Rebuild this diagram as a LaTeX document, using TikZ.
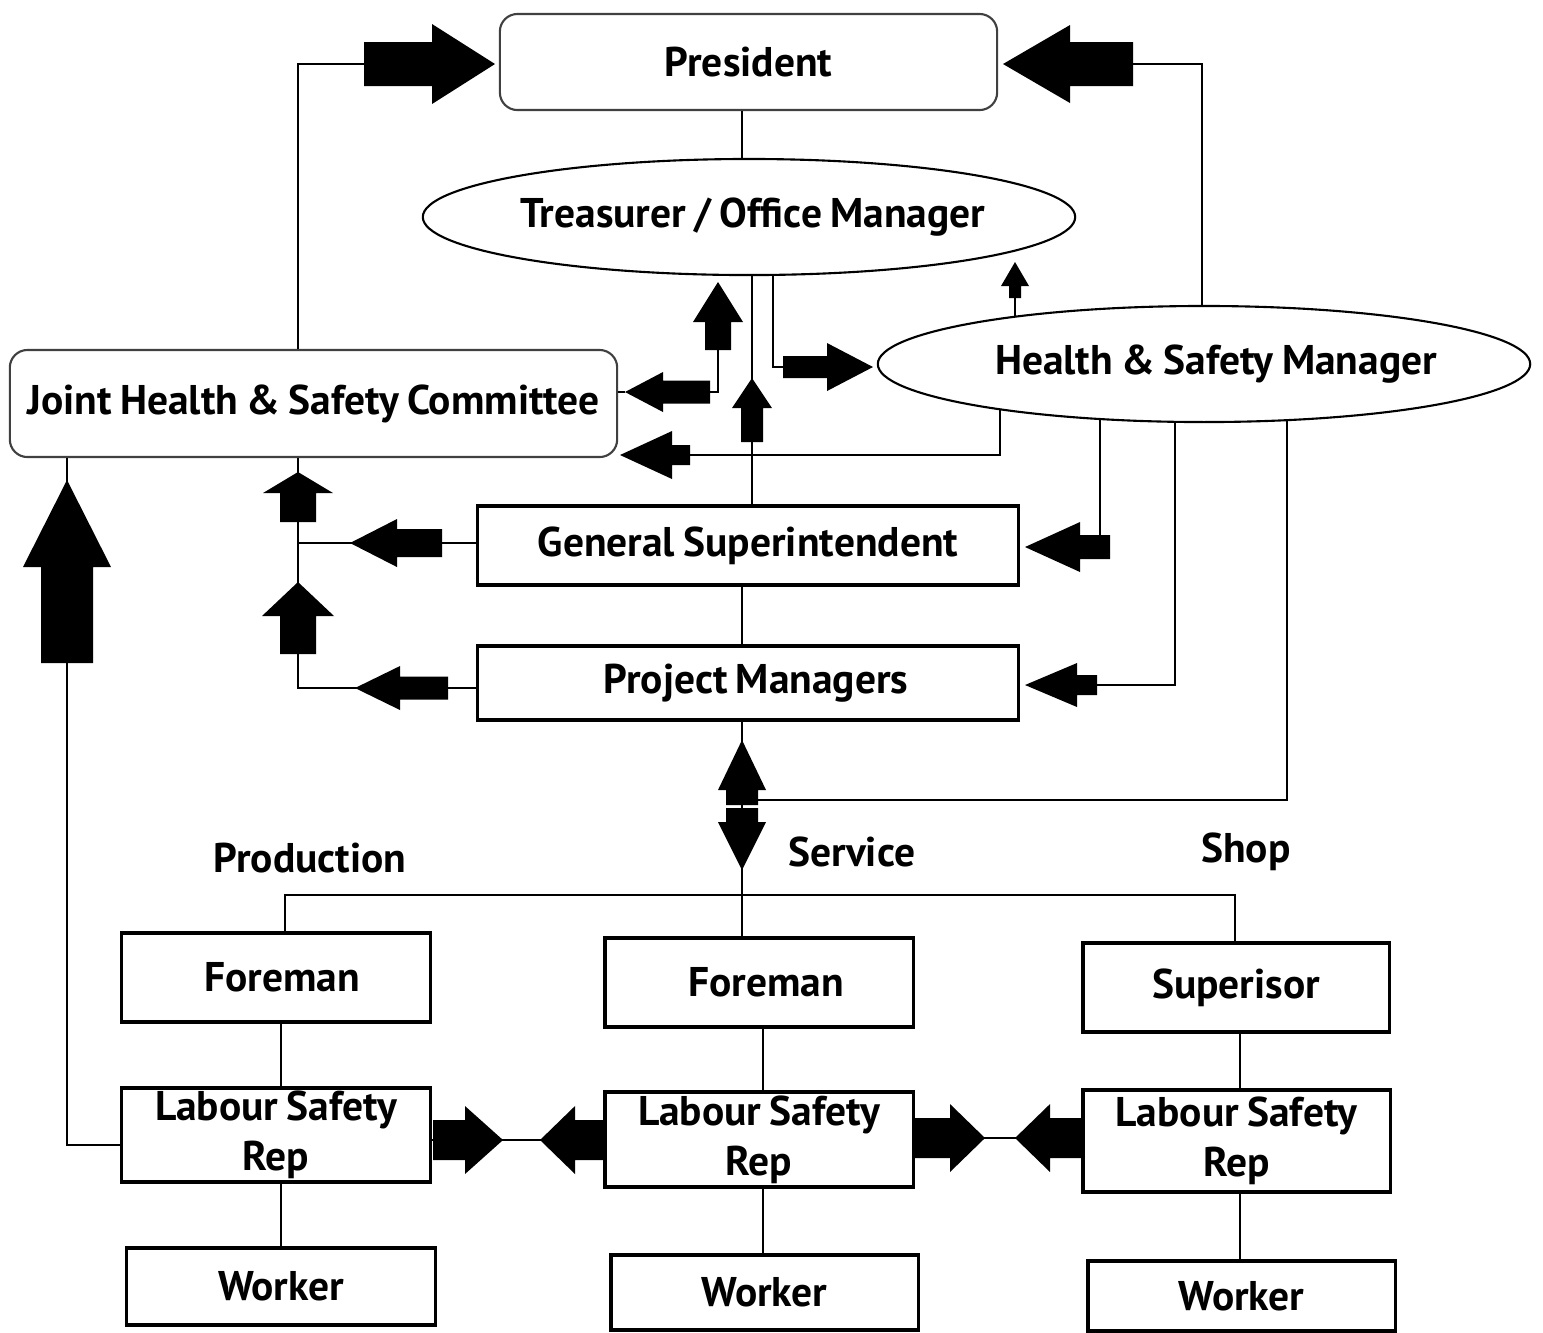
\documentclass[tikz,border=0pt]{standalone}
\usepackage{fontspec}
\setmainfont{PT Sans}[WordSpace=0.8]
\usetikzlibrary{shapes.geometric,calc}
\newcommand\lbl{\bfseries\fontsize{11.8}{14.2}\selectfont}
% block arrow: tip x, tip y, angle, total length, head length, shaft half width, head half width
\newcommand\barr[7]{\fill[shift={(#1,#2)},rotate=#3] (0,0) -- (-#5,#7) -- (-#5,#6) -- (-#4,#6) -- (-#4,-#6) -- (-#5,-#6) -- (-#5,-#7) -- cycle;}
\begin{document}
\begin{tikzpicture}[x=0.01cm,y=-0.01cm,
  box/.style={draw, line width=0.9pt, inner sep=0pt, font=\lbl, align=center},
  rbox/.style={draw=black!75, line width=0.6pt, rounded corners=5pt, inner sep=0pt, font=\lbl, align=center},
  ell/.style={ellipse, draw, line width=0.6pt, inner ysep=0pt, inner xsep=-1.5cm, font=\lbl},
  conn/.style={line width=0.7pt},
  lbl/.style={font=\lbl}]
\useasboundingbox[fill=white] (0,0) rectangle (1543,1332);

% nodes
\node[rbox, minimum width=4.97cm, minimum height=0.96cm] (pres) at (748.5,62) {President};
\node[ell, minimum width=6.52cm, minimum height=1.16cm] (treas) at (749,217) {\hspace*{0.08cm}Treasurer / Office Manager};
\node[ell, minimum width=6.52cm, minimum height=1.16cm] (hsm) at (1204,364) {\hspace*{0.24cm}Health \& Safety Manager};
\node[rbox, minimum width=6.07cm, minimum height=1.07cm] (jhsc) at (313.5,403.5) {Joint Health \& Safety Committee};
\node[box, minimum width=5.40cm, minimum height=0.79cm] (gs) at (748,545.5) {General Superintendent};
\node[box, minimum width=5.40cm, minimum height=0.74cm] (pm) at (748,683) {\hspace*{0.16cm}Project Managers};

\node[box, minimum width=3.08cm, minimum height=0.89cm] (f1) at (276,977.5) {\hspace*{0.12cm}Foreman};
\node[box, minimum width=3.08cm, minimum height=0.89cm] (f2) at (759,982.5) {\hspace*{0.14cm}Foreman};
\node[box, minimum width=3.06cm, minimum height=0.89cm] (sup) at (1236,987.5) {Superisor};

\node[box, minimum width=3.08cm, minimum height=0.94cm] (l1) at (276,1135) {Labour Safety\\Rep};
\node[box, minimum width=3.08cm, minimum height=0.95cm] (l2) at (759,1139.5) {Labour Safety\\Rep};
\node[box, minimum width=3.07cm, minimum height=1.02cm] (l3) at (1236.5,1141) {Labour Safety\\Rep};

\node[box, minimum width=3.08cm, minimum height=0.77cm] (w1) at (281,1286.5) {Worker};
\node[box, minimum width=3.07cm, minimum height=0.75cm] (w2) at (764.5,1292.5) {Worker};
\node[box, minimum width=3.07cm, minimum height=0.70cm] (w3) at (1241.5,1296) {Worker};

\node[lbl] (prod) at (310,858) {Production};
\node[lbl] (serv) at (852,852) {Service};
\node[lbl] (shop) at (1246,852) {Shop};

% coordinates
\coordinate (cA) at (298,64);
\coordinate (tl1) at (364,64);
\coordinate (cB) at (1202,64);
\coordinate (tr1) at (1133,64);
\coordinate (v742) at (742,0);
\coordinate (v752) at (752,0);
\coordinate (sa) at (1015,298);
\coordinate (c773) at (773,367);
\coordinate (t783) at (783,367);
\coordinate (ju) at (718,350);
\coordinate (j) at (718,392);
\coordinate (jl) at (710,392);
\coordinate (jt) at (625,392);
\coordinate (c1000) at (1000,455);
\coordinate (t690) at (690,455);
\coordinate (c1100) at (1100,535);
\coordinate (c1175) at (1175,685);
\coordinate (t1097) at (1097,685);
\coordinate (c1287) at (1287,800);
\coordinate (c758) at (758,800);
\coordinate (c298a) at (298,543);
\coordinate (c298b) at (298,688);
\coordinate (b1) at (285,895);
\coordinate (b3) at (1235,895);
\coordinate (x281) at (281,0);
\coordinate (x763) at (763,0);
\coordinate (x1240) at (1240,0);
\coordinate (y1140) at (0,1140);
\coordinate (y1138) at (0,1138);
\coordinate (c67) at (67,1145);

% connectors
\draw[conn] (jhsc.north -| cA) -- (cA) -- (tl1);
\draw[conn] (hsm.north -| cB) -- (cB) -- (tr1);
\draw[conn] (pres.south -| v742) -- (treas.north -| v742);
\draw[conn] (sa |- hsm.166) -- (sa);
\draw[conn] (gs.north -| v752) -- (treas.south -| v752);
\draw[conn] (treas.south -| c773) -- (c773) -- (t783);
\draw[conn] (ju) -- (j) -- (jl);
\draw[conn] (jt) -- (jt -| jhsc.east);
\draw[conn] (c1000 |- hsm.192) -- (c1000) -- (t690);
\draw[conn] (c1100 |- hsm.208) -- (c1100);
\draw[conn] (c1175 |- hsm.243) -- (c1175) -- (t1097);
\draw[conn] (c1287 |- hsm.326) -- (c1287) -- (c758);
\draw[conn] (jhsc.south -| c298a) -- (c298b) -- (pm.west |- c298b);
\draw[conn] (c298a) -- (gs.west |- c298a);
\draw[conn] (gs.south -| v742) -- (pm.north -| v742);
\draw[conn] (pm.south -| v742) -- (f2.north -| v742);
\draw[conn] (f1.north -| b1) -- (b1) -- (b3) -- (sup.north -| b3);
\draw[conn] (f1.south -| x281) -- (l1.north -| x281);
\draw[conn] (l1.south -| x281) -- (w1.north -| x281);
\draw[conn] (f2.south -| x763) -- (l2.north -| x763);
\draw[conn] (l2.south -| x763) -- (w2.north -| x763);
\draw[conn] (sup.south -| x1240) -- (l3.north -| x1240);
\draw[conn] (l3.south -| x1240) -- (w3.north -| x1240);
\draw[conn] (l1.east |- y1140) -- (l2.west |- y1140);
\draw[conn] (l2.east |- y1138) -- (l3.west |- y1138);
\draw[conn] (l1.west |- c67) -- (c67) -- (c67 |- jhsc.south);

% block arrows
\barr{495}{64}{0}{131}{63}{22}{40}
\barr{1003}{64}{180}{130}{67}{22}{39}
\barr{1015}{262}{90}{36}{24}{6}{14}
\barr{752}{378}{90}{64}{30}{11}{20}
\barr{873}{367}{0}{90}{46}{11}{24}
\barr{718}{282}{90}{68}{40}{13}{25}
\barr{625}{392}{180}{85}{38}{11.5}{20}
\barr{620}{455}{180}{70}{52}{10}{24}
\barr{1025}{547}{180}{85}{55}{12}{25}
\barr{1025}{685}{180}{72}{52}{10}{22}
\barr{350}{543}{180}{92}{47}{14}{24}
\barr{355}{688}{180}{93}{45}{11.5}{22}
\barr{298}{472}{90}{50}{21}{18}{35}
\barr{298}{582}{90}{72}{34}{18}{36}
\barr{742}{740}{90}{65}{50}{16}{24}
\barr{742}{870}{270}{62}{48}{16}{24}
\barr{503}{1140}{0}{70}{38}{20}{34}
\barr{540}{1140}{180}{65}{35}{20}{34}
\barr{985}{1138}{0}{72}{35}{20}{34}
\barr{1015}{1138}{180}{68}{35}{20}{34}
\barr{67}{480}{90}{183}{87}{26}{44}
\end{tikzpicture}
\end{document}
